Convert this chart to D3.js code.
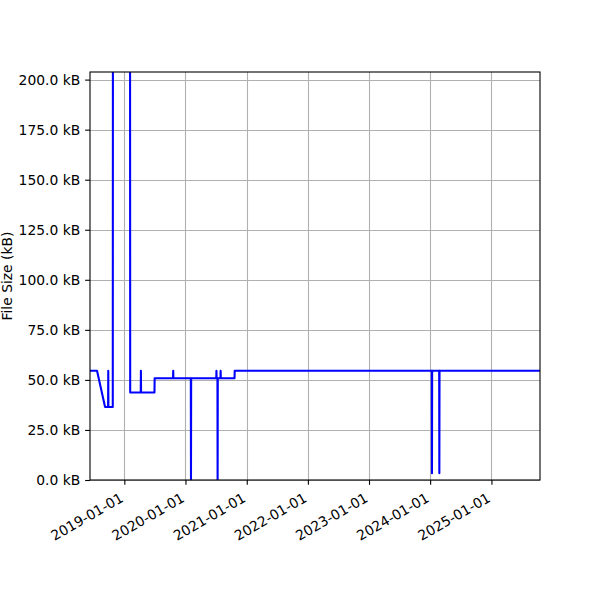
<!DOCTYPE html>
<html>
<head>
<meta charset="utf-8">
<script src="https://cdn.jsdelivr.net/npm/d3@7"></script>
<style>
  html, body { margin: 0; padding: 0; background: #fff; }
  svg { display: block; }
  text { font-family: "DejaVu Sans", sans-serif; fill: #000; }
</style>
</head>
<body>
<svg id="chart" width="600" height="600"></svg>
<script>
// ---- data ----
const dates = [
  "2018-06-10", "2018-07-22", "2018-09-08", "2018-09-26", "2018-09-27", "2018-09-28",
  "2018-10-24", "2018-10-25", "2019-02-04", "2019-02-05", "2019-04-09", "2019-04-10",
  "2019-04-11", "2019-06-30", "2019-07-01", "2019-10-19", "2019-10-20", "2019-10-21",
  "2020-02-02", "2020-02-03", "2020-02-04", "2020-07-03", "2020-07-04", "2020-07-05",
  "2020-07-10", "2020-07-11", "2020-07-12", "2020-07-28", "2020-07-29", "2020-07-30",
  "2020-10-20", "2020-10-21", "2024-01-11", "2024-01-12", "2024-01-13", "2024-02-24",
  "2024-02-25", "2024-02-26", "2025-10-18"
];
const sizesKB = [
  54.6, 54.6, 36.5, 36.5, 54.6, 36.5,
  36.5, 260, 260, 43.7, 43.7, 54.6,
  43.7, 43.7, 50.8, 50.8, 54.6, 50.8,
  50.8, 0, 50.8, 50.8, 54.6, 50.8,
  50.8, 0, 50.8, 50.8, 54.6, 50.8,
  50.8, 54.6, 54.6, 3.4, 54.6, 54.6,
  3.4, 54.6, 54.6
];
const yTicks = [0, 25, 50, 75, 100, 125, 150, 175, 200];
const xTickLabels = ["2019-01-01", "2020-01-01", "2021-01-01", "2022-01-01", "2023-01-01", "2024-01-01", "2025-01-01"];
const xDomain = ["2018-06-10", "2025-10-18"];
const yDomain = [0, 203.8];
const yLabel = "File Size (kB)";

// ---- layout ----
const parse = d3.utcParse("%Y-%m-%d");
const L = 90, R = 540, T = 72, B = 480;
const fs = 13.89, tickLen = 4.86, pad = 4.86;

const svg = d3.select("#chart");
const x = d3.scaleUtc().domain(xDomain.map(parse)).range([L, R]);
const y = d3.scaleLinear().domain(yDomain).range([B, T]);

const points = dates.map((d, i) => ({ t: parse(d), v: sizesKB[i] }));
const xTicks = xTickLabels.map(parse);

// grid
const grid = svg.append("g").attr("stroke", "#b0b0b0").attr("stroke-width", 1.1);
grid.selectAll(".gx").data(xTicks).join("line")
  .attr("x1", d => Math.round(x(d)) + 0.5).attr("x2", d => Math.round(x(d)) + 0.5)
  .attr("y1", T).attr("y2", B);
grid.selectAll(".gy").data(yTicks).join("line")
  .attr("y1", d => Math.round(y(d)) + 0.5).attr("y2", d => Math.round(y(d)) + 0.5)
  .attr("x1", L).attr("x2", R);

// clip
svg.append("clipPath").attr("id", "clip").append("rect")
  .attr("x", L).attr("y", T).attr("width", R - L).attr("height", B - T);

// line
const line = d3.line().x(d => x(d.t)).y(d => y(d.v));
svg.append("path")
  .datum(points)
  .attr("clip-path", "url(#clip)")
  .attr("fill", "none")
  .attr("stroke", "#0000ff")
  .attr("stroke-width", 2.08)
  .attr("stroke-linejoin", "round")
  .attr("stroke-linecap", "square")
  .attr("d", line);

// axes with d3 axis generators
const fmtY = v => d3.format(".1f")(v) + " kB";
const yAxis = d3.axisLeft(y).tickValues(yTicks).tickFormat(fmtY).tickSize(tickLen).tickPadding(pad);
const gy = svg.append("g").attr("transform", `translate(${L},0)`).call(yAxis);
gy.select(".domain").remove();
gy.selectAll(".tick line").attr("stroke", "#000").attr("stroke-width", 1.1);
gy.selectAll(".tick text").attr("font-size", fs).attr("font-family", "DejaVu Sans").attr("fill", "#000");

const xAxis = d3.axisBottom(x).tickValues(xTicks).tickFormat(d3.utcFormat("%Y-%m-%d")).tickSize(tickLen).tickPadding(pad);
const gx = svg.append("g").attr("transform", `translate(0,${B})`).call(xAxis);
gx.select(".domain").remove();
gx.selectAll(".tick line").attr("stroke", "#000").attr("stroke-width", 1.1);
gx.selectAll(".tick text")
  .attr("font-size", fs).attr("font-family", "DejaVu Sans").attr("fill", "#000")
  .attr("text-anchor", "end")
  .attr("dy", null)
  .attr("y", null)
  .attr("transform", `translate(-0.5,${tickLen + pad + 11}) rotate(-30)`);

// spines
svg.append("rect")
  .attr("x", L).attr("y", T).attr("width", R - L).attr("height", B - T)
  .attr("fill", "none").attr("stroke", "#000").attr("stroke-width", 1.1);

// y label
svg.append("text")
  .attr("transform", `translate(12,${(T + B) / 2}) rotate(-90)`)
  .attr("text-anchor", "middle")
  .attr("font-size", fs)
  .text(yLabel);
</script>
</body>
</html>
